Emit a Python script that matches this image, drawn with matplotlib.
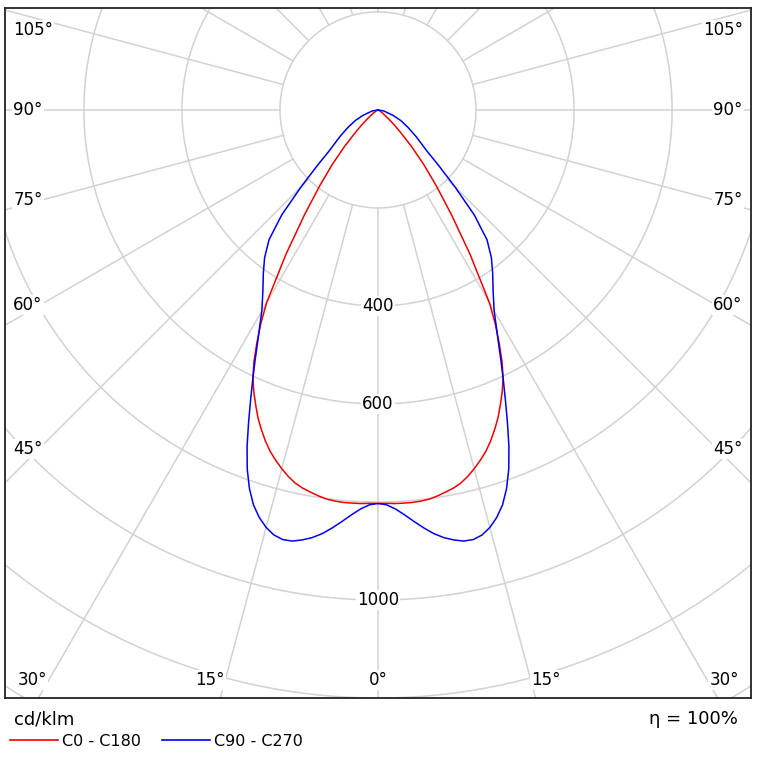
import numpy as np
import matplotlib
matplotlib.use("Agg")
import matplotlib.pyplot as plt
from matplotlib.lines import Line2D

# gamma angles (deg) and luminous intensity (cd/klm), symmetric halves
gamma = [0, 1.25, 2.5, 3.75, 5, 6.25, 7.5, 8.75, 10, 11.25, 12.5, 13.75, 15,
         16.25, 17.5, 18.75, 20, 21.25, 22.5, 23.75, 25, 26.25, 27.5, 28.75, 30,
         32.5, 35, 37.5, 40, 42.5, 45, 47.5, 50, 55, 60, 65, 70, 80, 90]
c0_c180 = [803, 803, 804, 804, 804, 803, 801, 797, 792, 787, 780, 770, 758,
           745, 731, 714, 695, 675, 652, 629, 604, 572, 535, 497, 455,
           350, 262, 196, 145, 101, 66, 44, 28, 12, 5, 2, 1, 0, 0]
c90_c270 = [803, 806, 815, 828, 843, 858, 872, 883, 891, 897, 898, 893, 882,
            866, 845, 816, 780, 737, 690, 645, 604, 566, 531, 501, 474,
            437, 408, 380, 346, 291, 222, 168, 130, 95, 70, 51, 33, 12, 0]

ring_values = [200, 400, 600, 800, 1000, 1200, 1400, 1600]
ring_labels = [400, 600, 1000]
spoke_angles = np.arange(0, 360, 15)

# angle labels: (text, x, y) in cd/klm units, placed along the frame
angle_labels = [("105°", 704, 163), ("90°", 714, 0), ("75°", 714, -184),
                ("60°", 714, -398), ("45°", 714, -692), ("30°", 706, -1163),
                ("15°", 343, -1163)]

grid_col = "#d2d2d2"

fig = plt.figure(figsize=(7.58, 7.60), dpi=100)
ax = fig.add_axes([5 / 758, 1 - 698 / 760, 746 / 758, 690 / 760])
ax.set_xlim(-761, 761)
ax.set_ylim(-1200, 208)
ax.set_xticks([])
ax.set_yticks([])
for s in ax.spines.values():
    s.set_linewidth(1.3)
    s.set_color("#222222")

# grid rings and spokes
t = np.linspace(0, 2 * np.pi, 721)
for r in ring_values:
    ax.plot(r * np.cos(t), r * np.sin(t), color=grid_col, lw=1.1, zorder=1)
for a in spoke_angles:
    th = np.radians(a)
    ax.plot([200 * np.sin(th), 2000 * np.sin(th)],
            [-200 * np.cos(th), -2000 * np.cos(th)], color=grid_col, lw=1.1, zorder=1)

# curves (mirror each half)
g = np.radians(np.array(gamma))
for vals, col in [(c0_c180, "#ee0000"), (c90_c270, "#0000ee")]:
    v = np.array(vals, dtype=float)
    gg = np.concatenate([-g[::-1], g[1:]])
    vv = np.concatenate([v[::-1], v[1:]])
    ax.plot(vv * np.sin(gg), -vv * np.cos(gg), color=col, lw=1.1, zorder=3)

box = dict(facecolor="white", edgecolor="none", pad=1.0)
for r in ring_labels:
    ax.text(0, -r, str(r), ha="center", va="center", fontsize=12, bbox=box, zorder=2)
for txt, x, y in angle_labels:
    ax.text(-x, y, txt, ha="center", va="center", fontsize=12, bbox=box, zorder=2)
    ax.text(x, y, txt, ha="center", va="center", fontsize=12, bbox=box, zorder=2)
ax.text(0, -1163, "0°", ha="center", va="center", fontsize=12, bbox=box, zorder=2)

fig.text(14 / 758, 1 - 720 / 760, "cd/klm", ha="left", va="center", fontsize=13)
fig.text(738 / 758, 1 - 719 / 760, "η = 100%", ha="right", va="center", fontsize=13)

handles = [Line2D([], [], color="#ee0000", lw=1.2), Line2D([], [], color="#0000ee", lw=1.2)]
fig.legend(handles, ["C0 - C180", "C90 - C270"], ncol=2, frameon=False,
           loc="center left", bbox_to_anchor=(10 / 758, 1 - 741 / 760),
           fontsize=11.5, handlelength=3.0, handletextpad=0.25, columnspacing=1.3,
           borderpad=0, borderaxespad=0)

fig.savefig("out.png", dpi=100, facecolor="white")
